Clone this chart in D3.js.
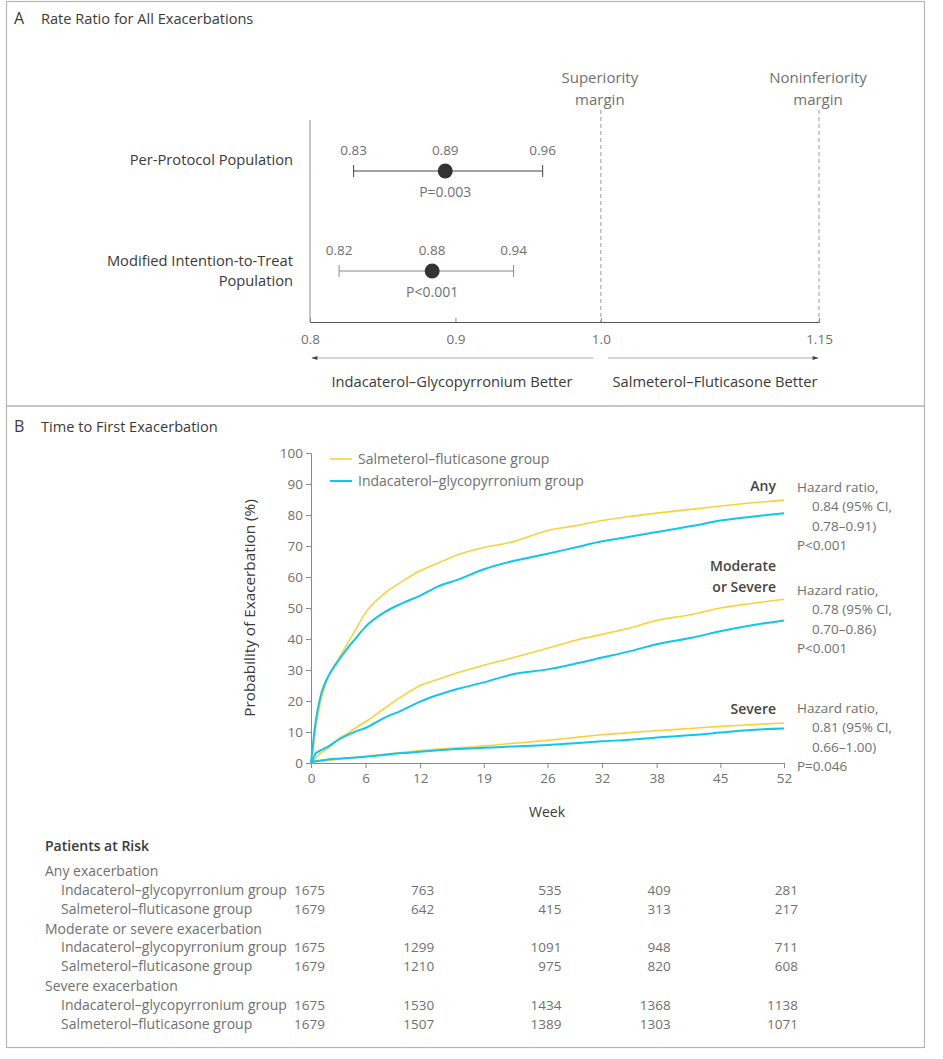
<!DOCTYPE html>
<html><head><meta charset="utf-8">
<script src="https://cdn.jsdelivr.net/npm/d3@7"></script>
<style>
body{margin:0;background:#fff;}
svg text{font-family:"Open Sans",Lato,sans-serif;}
</style></head>
<body><svg id="c" width="943" height="1059"></svg>
<script>
// ---------- Panel A data ----------
const forestRows = ["Per-Protocol Population", "Modified Intention-to-Treat|Population"];
const forestEst = [0.893, 0.884];
const forestLow = [0.83, 0.82];
const forestHigh = [0.96, 0.94];
const forestEstLabel = ["0.89", "0.88"];
const forestLowLabel = ["0.83", "0.82"];
const forestHighLabel = ["0.96", "0.94"];
const forestP = ["P=0.003", "P<0.001"];
const forestTicks = [0.8, 0.9, 1.0, 1.15];
const forestTickLabels = ["0.8", "0.9", "1.0", "1.15"];
const margins = [1.0, 1.15];
const marginLabels = ["Superiority|margin", "Noninferiority|margin"];

// ---------- Panel B data ----------
const kmWeeks = [0,0.25,0.5,1,1.5,2,3,4,5,6,8,10,12,14,16,19,22,26,29,32,35,38,42,45,48,52];
const anySF = [0,5,11,19,24.5,28.5,33.5,38.5,43.5,48.5,54.5,58.5,62,64.5,67,69.5,71.2,75,76.5,78.2,79.5,80.6,81.9,82.9,83.8,84.8];
const anyIG = [0,7,13,21,25.5,28.5,33,37,40.5,44,48.5,51.5,54,57,59,62.5,65,67.5,69.5,71.5,73,74.5,76.5,78.2,79.3,80.6];
const modSF = [0,0.7,1.5,3,4,5,7.8,9.5,11.5,13.3,17.5,21.5,25,27,29,31.5,33.8,37,39.5,41.5,43.5,46,48,50,51.3,52.8];
const modIG = [0,1.5,3,4,4.7,5.5,7.5,9,10.3,11.3,14.5,17,19.8,22,23.8,26,28.5,30.2,32,34,36,38.3,40.5,42.5,44.2,46];
const sevSF = [0,0.2,0.3,0.5,0.7,0.8,1.2,1.5,1.9,2.2,2.8,3.4,4,4.5,4.9,5.5,6.3,7.3,8.2,9.1,9.8,10.4,11.2,11.8,12.3,12.9];
const sevIG = [0,0.4,0.6,0.8,1.0,1.2,1.4,1.6,1.8,2.0,2.6,3.2,3.6,4.1,4.5,4.9,5.3,5.8,6.4,7,7.5,8.2,9,9.8,10.6,11.1];
const weekTicks = [0,6,12,19,26,32,38,45,52];
const probTicks = [0,10,20,30,40,50,60,70,80,90,100];
const groupNames = ["Salmeterol–fluticasone group", "Indacaterol–glycopyrronium group"];
const hrLabels = [
  ["Hazard ratio,", "0.84 (95% CI,", "0.78–0.91)", "P<0.001"],
  ["Hazard ratio,", "0.78 (95% CI,", "0.70–0.86)", "P<0.001"],
  ["Hazard ratio,", "0.81 (95% CI,", "0.66–1.00)", "P=0.046"]
];
const curveNames = ["Any", "Moderate|or Severe", "Severe"];

// risk table
const riskWeeks = [0,12,26,38,52];
const riskSections = ["Any exacerbation", "Moderate or severe exacerbation", "Severe exacerbation"];
const riskRowNames = ["Indacaterol–glycopyrronium group", "Salmeterol–fluticasone group"];
const anyIGRisk = [1675,763,535,409,281];
const anySFRisk = [1679,642,415,313,217];
const modIGRisk = [1675,1299,1091,948,711];
const modSFRisk = [1679,1210,975,820,608];
const sevIGRisk = [1675,1530,1434,1368,1138];
const sevSFRisk = [1679,1507,1389,1303,1071];

// ---------- drawing ----------
const svg = d3.select("#c");
const light = "#707070", dark = "#3a3a3a", axisCol = "#8a8a8a";
const YEL = "#f6d33c", BLU = "#10c6f0";
const FS = 13.5;   // numbers
const FL = 14;     // light labels
const FD = 14.7;   // dark labels

// frame
svg.append("rect").attr("x",6.5).attr("y",1.5).attr("width",918).attr("height",1046)
  .attr("fill","none").attr("stroke","#b5b5b5").attr("stroke-width",1.2);
svg.append("line").attr("x1",6.5).attr("x2",924.5).attr("y1",406).attr("y2",406)
  .attr("stroke","#b5b5b5").attr("stroke-width",1.5);

function title(x,y,letter,txt){
  const t = svg.append("text").attr("x",x).attr("y",y).attr("fill",dark);
  t.append("tspan").attr("font-size",16).text(letter);
  t.append("tspan").attr("x",41).attr("font-size",14.6).text(txt);
}
title(14,24,"A","Rate Ratio for All Exacerbations");
title(14,432,"B","Time to First Exacerbation");

// Panel A
const xA = d3.scaleLinear().domain([0.8,1.15]).range([310,819]);
const axisYA = 322;
const gA = svg.append("g");
gA.append("line").attr("x1",310).attr("x2",310).attr("y1",120).attr("y2",axisYA).attr("stroke",axisCol);
const axA = d3.axisBottom(xA).tickValues(forestTicks).tickSize(-4).tickPadding(12)
  .tickFormat((d,i)=>forestTickLabels[i]);
const gax = gA.append("g").attr("transform",`translate(0,${axisYA})`).call(axA);
gax.select(".domain").attr("stroke","#555");
gax.selectAll(".tick line").attr("stroke","#888");
gax.selectAll("text").attr("font-size",FS).attr("fill",light).attr("font-family","Open Sans");

margins.forEach((m,i)=>{
  gA.append("line").attr("x1",xA(m)).attr("x2",xA(m)).attr("y1",110).attr("y2",axisYA)
    .attr("stroke","#999").attr("stroke-dasharray","4,3");
  marginLabels[i].split("|").forEach((s,j)=>{
    gA.append("text").attr("x",xA(m)-1).attr("y",83+j*22).attr("text-anchor","middle")
      .attr("font-size",15).attr("fill",light).text(s);
  });
});

const rowY = [171, 271];
forestRows.forEach((r,i)=>{
  const y = rowY[i];
  const parts = r.split("|");
  parts.forEach((s,j)=>{
    gA.append("text").attr("x",293).attr("y", parts.length===1 ? y-6 : y-5+j*20)
      .attr("text-anchor","end").attr("font-size",FD).attr("fill",dark).text(s);
  });
  const lc = i===0 ? "#444" : "#888";
  gA.append("line").attr("x1",xA(forestLow[i])).attr("x2",xA(forestHigh[i])).attr("y1",y).attr("y2",y).attr("stroke",lc);
  [forestLow[i],forestHigh[i]].forEach(v=>{
    gA.append("line").attr("x1",xA(v)).attr("x2",xA(v)).attr("y1",y-6).attr("y2",y+6).attr("stroke",lc);
  });
  gA.append("circle").attr("cx",xA(forestEst[i])).attr("cy",y).attr("r",7.5).attr("fill","#333");
  [[forestLow[i],forestLowLabel[i]],[forestEst[i],forestEstLabel[i]],[forestHigh[i],forestHighLabel[i]]].forEach(([v,l])=>{
    gA.append("text").attr("x",xA(v)).attr("y",y-16).attr("text-anchor","middle")
      .attr("font-size",FS).attr("fill",light).text(l);
  });
  gA.append("text").attr("x",xA(forestEst[i])).attr("y",y+26).attr("text-anchor","middle")
    .attr("font-size",14).attr("fill",light).text(forestP[i]);
});

// arrows
const defs = svg.append("defs");
defs.append("marker").attr("id","ah").attr("viewBox","0 0 10 10").attr("refX",9).attr("refY",5)
  .attr("markerWidth",10).attr("markerHeight",6).attr("orient","auto-start-reverse")
  .append("path").attr("d","M0,1.5 L10,5 L0,8.5 Z").attr("fill","#444");
gA.append("line").attr("x1",xA(0.995)).attr("x2",xA(0.8)+2).attr("y1",358).attr("y2",358)
  .attr("stroke","#aaa").attr("marker-end","url(#ah)");
gA.append("line").attr("x1",xA(1.005)).attr("x2",xA(1.15)-1).attr("y1",358).attr("y2",358)
  .attr("stroke","#aaa").attr("marker-end","url(#ah)");
gA.append("text").attr("x",452).attr("y",387).attr("text-anchor","middle").attr("font-size",FD)
  .attr("fill",dark).text("Indacaterol–Glycopyrronium Better");
gA.append("text").attr("x",715).attr("y",387).attr("text-anchor","middle").attr("font-size",FD)
  .attr("fill",dark).text("Salmeterol–Fluticasone Better");

// Panel B
const xB = d3.scaleLinear().domain([0,52]).range([311,784]);
const yB = d3.scaleLinear().domain([0,100]).range([763,453]);
const gB = svg.append("g");
const axX = d3.axisBottom(xB).tickValues(weekTicks).tickSize(5).tickPadding(5);
const gx = gB.append("g").attr("transform","translate(0,763)").call(axX);
const axY = d3.axisLeft(yB).tickValues(probTicks).tickSize(5).tickPadding(3);
const gy = gB.append("g").attr("transform","translate(311,0)").call(axY);
[gx,gy].forEach(g=>{
  g.select(".domain").attr("stroke",axisCol);
  g.selectAll(".tick line").attr("stroke",axisCol);
  g.selectAll("text").attr("font-size",FS).attr("fill",light).attr("font-family","Open Sans");
});
gB.append("text").attr("transform","translate(255,608) rotate(-90)").attr("text-anchor","middle")
  .attr("font-size",15.3).attr("fill",dark).text("Probability of Exacerbation (%)");
gB.append("text").attr("x",547).attr("y",817).attr("text-anchor","middle")
  .attr("font-size",14).attr("fill",dark).text("Week");

const line = d3.line().x((d,i)=>xB(kmWeeks[i])).y(d=>yB(d)).curve(d3.curveMonotoneX);
[[anySF,anyIG],[modSF,modIG],[sevSF,sevIG]].forEach(([sf,ig])=>{
  gB.append("path").attr("d",line(sf)).attr("fill","none").attr("stroke",YEL).attr("stroke-width",1.6);
  gB.append("path").attr("d",line(ig)).attr("fill","none").attr("stroke",BLU).attr("stroke-width",2);
});

// legend
[[YEL,1.6],[BLU,2]].forEach(([c,w],i)=>{
  const y = 459 + i*22;
  gB.append("line").attr("x1",330).attr("x2",352).attr("y1",y).attr("y2",y).attr("stroke",c).attr("stroke-width",w);
  gB.append("text").attr("x",358).attr("y",y+5).attr("font-size",FL).attr("fill",light).text(groupNames[i]);
});

// curve labels
const nameY = [[491],[571,592],[714]];
curveNames.forEach((n,i)=>{
  n.split("|").forEach((s,j)=>{
    gB.append("text").attr("x",776).attr("y",nameY[i][j]).attr("text-anchor","end")
      .attr("font-size",14).attr("font-weight",600).attr("fill","#444").text(s);
  });
});
const hrY = [492, 595, 713];
hrLabels.forEach((lines,i)=>{
  lines.forEach((s,j)=>{
    gB.append("text").attr("x", (j===1||j===2) ? 812 : 797).attr("y",hrY[i]+j*19.3)
      .attr("font-size",FS).attr("fill",light).text(s);
  });
});

// risk table
const gR = svg.append("g");
gR.append("text").attr("x",45).attr("y",851).attr("font-size",14).attr("fill",dark).attr("font-weight",600).text("Patients at Risk");
const riskData = [[anyIGRisk,anySFRisk],[modIGRisk,modSFRisk],[sevIGRisk,sevSFRisk]];
riskSections.forEach((s,i)=>{
  const y0 = 876 + i*57.5;
  gR.append("text").attr("x",45).attr("y",y0).attr("font-size",FL).attr("fill",light).text(s);
  riskRowNames.forEach((rn,j)=>{
    const y = y0 + 18.5 + j*19;
    gR.append("text").attr("x",61).attr("y",y).attr("font-size",FL).attr("fill",light).text(rn);
    riskData[i][j].forEach((v,k)=>{
      gR.append("text").attr("x",xB(riskWeeks[k])+14).attr("y",y).attr("text-anchor","end")
        .attr("font-size",FS).attr("fill",light).text(v);
    });
  });
});
</script></body></html>
